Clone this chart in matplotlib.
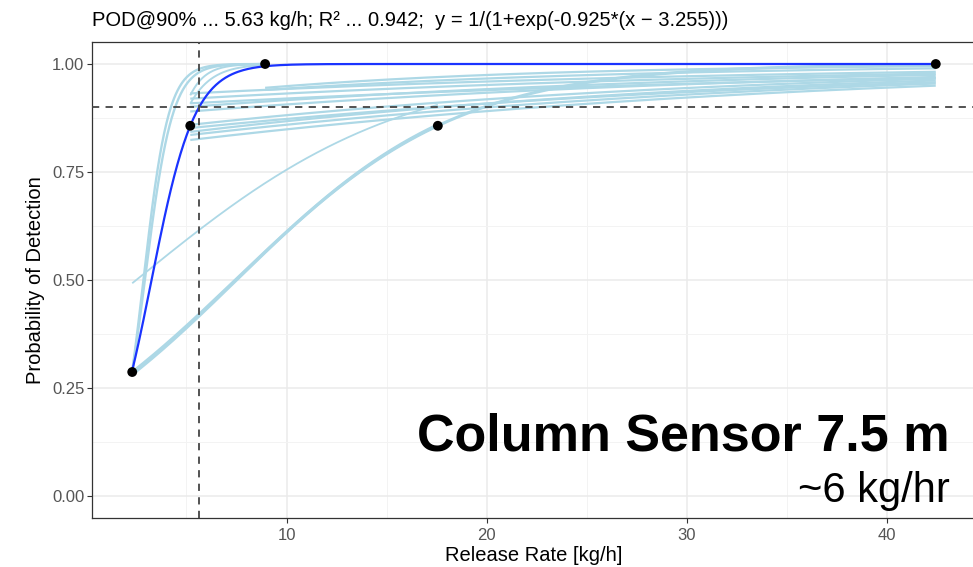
import numpy as np
import matplotlib
matplotlib.use("Agg")
import matplotlib.pyplot as plt
from matplotlib.ticker import MultipleLocator

plt.rcParams['font.family'] = ['Liberation Sans', 'DejaVu Sans']

# ---- data ----
obs_x = [2.29, 5.19, 8.93, 17.56, 42.44]
obs_y = [0.287, 0.857, 1.0, 0.857, 1.0]

fit_k = 0.925
fit_x0 = 3.255
pod90 = 5.63
pod_level = 0.9

# bootstrap logistic fits: slope, midpoint, x-range, line width
boot_k = [1.60, 1.45, 1.40, 1.00, 0.177, 0.180, 0.150,
          0.0375, 0.0382, 0.0416, 0.0369, 0.0413, 0.0371, 0.0390, 0.0297, 0.0362, 0.0371,
          0.0549, 0.0728]
boot_x0 = [2.85, 2.92, 3.37, 2.90, 7.44, 7.50, 2.49,
           -36.0, -37.4, -35.2, -42.2, -38.6, -51.2, -51.4, -72.3, -62.2, -65.3,
           -41.2, -30.1]
boot_xmin = [2.29, 2.29, 5.19, 5.19, 2.29, 2.29, 2.29,
             5.19, 5.19, 5.19, 5.19, 5.19, 5.19, 5.19, 5.19, 5.19, 5.19,
             8.93, 8.93]
boot_xmax = [8.93, 8.93, 8.93, 8.93, 42.44, 17.56, 17.56,
             42.44, 42.44, 42.44, 42.44, 42.44, 42.44, 42.44, 42.44, 42.44, 42.44,
             42.44, 42.44]
boot_lw = [1.7, 1.7, 1.4, 1.4, 2.2, 2.2, 1.3,
           1.6, 1.6, 1.6, 1.6, 1.6, 1.6, 1.6, 1.6, 1.6, 1.6,
           1.6, 1.6]

x_ticks = [10, 20, 30, 40]
y_ticks = [0.0, 0.25, 0.5, 0.75, 1.0]
y_ticklabels = ["0.00", "0.25", "0.50", "0.75", "1.00"]

title = "POD@90% ... 5.63 kg/h; R\u00b2 ... 0.942;  y = 1/(1+exp(-0.925*(x \u2212 3.255)))"
xlabel = "Release Rate [kg/h]"
ylabel = "Probability of Detection"
big_label = "Column Sensor 7.5 m"
sub_label = "~6 kg/hr"

# ---- figure ----
W, H = 973, 567
fig = plt.figure(figsize=(W / 100, H / 100), dpi=100)
L, R, T, B = 92, 976, 42.4, 517.6
ax = fig.add_axes([L / W, 1 - B / H, (R - L) / W, (B - T) / H])

def logistic(x, k, x0):
    return 1.0 / (1.0 + np.exp(-k * (x - x0)))

for k, x0, a, b, lw in zip(boot_k, boot_x0, boot_xmin, boot_xmax, boot_lw):
    xs = np.linspace(a, b, 300)
    ax.plot(xs, logistic(xs, k, x0), color="#add8e6", lw=lw, zorder=2,
            solid_capstyle="butt")

xs = np.linspace(min(obs_x), max(obs_x), 500)
ax.plot(xs, logistic(xs, fit_k, fit_x0), color="#1a33ff", lw=1.6, zorder=3)

ax.axhline(pod_level, color="#444444", lw=1.3, ls=(0, (4, 3.5)), zorder=4)
ax.axvline(pod90, color="#444444", lw=1.3, ls=(0, (4, 3.5)), zorder=4)

ax.scatter(obs_x, obs_y, s=50, color="black", zorder=5, edgecolors="none")

ax.set_xlim(0.28, 44.45)
ax.set_ylim(-0.05, 1.05)
ax.set_xticks(x_ticks)
ax.set_xticklabels([str(t) for t in x_ticks])
ax.set_yticks(y_ticks)
ax.set_yticklabels(y_ticklabels)
ax.xaxis.set_minor_locator(MultipleLocator(5))
ax.yaxis.set_minor_locator(MultipleLocator(0.125))
ax.grid(which="major", color="#ebebeb", lw=1.1, zorder=0)
ax.grid(which="minor", color="#f3f3f3", lw=0.7, zorder=0)
ax.set_axisbelow(True)
ax.tick_params(which="major", length=3.5, width=0.8, color="#333333",
               labelcolor="#555555", labelsize=12, pad=2)
ax.tick_params(axis="x", which="major", pad=4)
ax.tick_params(which="minor", length=0)
for sp in ax.spines.values():
    sp.set_color("#333333")
    sp.set_linewidth(0.9)

ax.set_xlabel(xlabel, fontsize=14.5, color="black", labelpad=2)
ax.set_ylabel(ylabel, fontsize=14.5, color="black", labelpad=5)

fig.text(L / W, 1 - 21 / H, title, fontsize=14.5, ha="left", va="center", color="black")
fig.text(950 / W, 1 - 437 / H, big_label, fontsize=37.5, fontweight="bold",
         ha="right", va="center", color="black")
fig.text(950 / W, 1 - 491 / H, sub_label, fontsize=30, ha="right", va="center",
         color="black")

fig.savefig("out.png", dpi=100)
